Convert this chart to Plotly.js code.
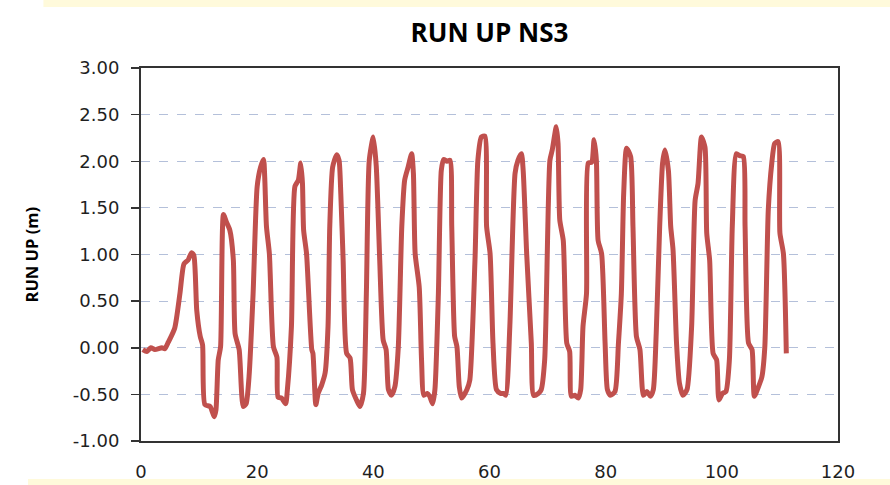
<!DOCTYPE html>
<html>
<head>
<meta charset="utf-8">
<script src="https://cdn.plot.ly/plotly-3.0.1.min.js"></script>
<style>html,body{margin:0;padding:0;background:#fff;}#chart{width:890px;height:485px;}</style>
</head>
<body>
<div id="chart"></div>
<script>
const chartTitle = "RUN UP NS3";
const yTitle = "RUN UP (m)";
const xTicks = [0, 20, 40, 60, 80, 100, 120];
const yTicks = [-1, -0.5, 0, 0.5, 1, 1.5, 2, 2.5, 3];

const time = [0.3, 1.0, 1.7, 2.4, 3.6, 4.1, 4.7, 5.8, 6.7, 7.4, 8.1, 8.7, 9.1, 9.6, 10.2, 10.6, 11.0, 11.9, 12.6, 12.9, 13.3, 13.7, 14.2, 14.7, 15.3, 15.9, 16.2, 16.9, 17.6, 18.1, 18.6, 19.3, 20.0, 20.6, 21.1, 21.3, 21.6, 22.1, 22.8, 23.4, 23.6, 24.2, 24.9, 25.2, 25.9, 26.5, 27.1, 27.5, 27.8, 28.0, 28.5, 29.4, 29.6, 30.1, 30.5, 31.1, 31.7, 32.2, 32.5, 33.0, 33.7, 34.1, 34.4, 34.8, 35.4, 36.0, 36.4, 37.1, 37.7, 38.3, 38.8, 39.3, 40.0, 40.5, 41.1, 41.7, 42.2, 42.6, 43.1, 43.7, 44.3, 44.9, 45.4, 46.0, 46.6, 46.9, 47.2, 47.9, 48.3, 48.7, 49.3, 49.7, 50.2, 50.6, 51.2, 51.7, 52.1, 52.7, 53.2, 53.5, 54.0, 54.4, 54.8, 55.2, 56.1, 56.6, 57.5, 58.0, 58.6, 59.2, 59.5, 60.1, 60.6, 61.2, 61.9, 62.4, 62.8, 63.5, 64.4, 64.9, 65.5, 65.8, 66.4, 67.2, 67.6, 68.4, 68.9, 69.5, 70.4, 70.8, 71.5, 71.8, 72.1, 72.7, 73.3, 73.8, 74.1, 74.7, 75.3, 75.7, 76.1, 76.7, 77.0, 77.6, 78.0, 78.4, 78.7, 79.3, 79.9, 80.3, 80.8, 81.6, 82.2, 82.7, 83.1, 83.6, 84.3, 84.7, 85.3, 85.9, 86.5, 87.1, 87.7, 88.2, 88.7, 89.3, 89.8, 90.2, 90.8, 91.2, 91.6, 92.2, 92.7, 93.3, 94.0, 94.8, 95.4, 95.9, 96.5, 97.1, 97.4, 97.9, 98.5, 99.1, 99.5, 100.1, 100.7, 101.3, 101.8, 102.5, 103.1, 103.7, 104.0, 104.6, 105.2, 105.6, 106.3, 106.9, 107.4, 108.0, 108.6, 109.1, 109.7, 110.0, 110.6, 111.1];

const runUp = [-0.02, -0.04, 0.0, -0.02, 0.0, -0.01, 0.06, 0.21, 0.58, 0.90, 0.94, 1.02, 0.99, 0.40, 0.12, 0.03, -0.61, -0.63, -0.74, -0.67, -0.13, 0.01, 1.43, 1.35, 1.26, 0.94, 0.15, -0.02, -0.63, -0.60, -0.31, 0.58, 1.73, 1.94, 2.02, 1.83, 1.30, 1.01, 0.01, -0.10, -0.53, -0.54, -0.60, -0.45, 0.23, 1.73, 1.80, 1.98, 1.76, 1.26, 1.01, -0.02, -0.06, -0.61, -0.49, -0.40, -0.27, 0.23, 1.30, 1.94, 2.07, 2.01, 1.65, 0.94, -0.06, -0.11, -0.45, -0.56, -0.63, -0.49, 0.58, 2.01, 2.26, 1.95, 0.94, 0.08, -0.02, -0.45, -0.51, -0.42, 0.01, 1.30, 1.80, 1.94, 2.08, 1.87, 1.01, 0.65, -0.13, -0.51, -0.49, -0.52, -0.60, -0.45, 0.58, 1.90, 2.02, 2.00, 2.01, 1.30, 0.12, 0.01, -0.42, -0.54, -0.45, -0.35, 0.94, 2.01, 2.26, 2.27, 1.30, 1.01, 0.05, -0.45, -0.49, -0.49, -0.51, 0.23, 1.87, 2.01, 2.08, 1.90, 1.01, 0.05, -0.51, -0.49, -0.45, -0.13, 2.01, 2.12, 2.37, 2.19, 1.37, 1.15, 0.05, -0.04, -0.52, -0.51, -0.54, -0.45, 0.23, 0.58, 1.98, 1.99, 2.23, 2.01, 1.15, 1.01, 0.05, -0.45, -0.51, -0.47, 0.05, 0.58, 1.65, 2.14, 2.05, 1.30, 0.12, -0.02, -0.51, -0.47, -0.52, -0.45, 0.15, 1.30, 1.98, 2.12, 1.90, 1.30, 1.05, 0.05, -0.38, -0.51, -0.45, 0.23, 1.58, 1.76, 2.26, 2.15, 1.23, 0.94, -0.06, -0.13, -0.56, -0.49, -0.47, -0.13, 1.30, 2.08, 2.06, 2.05, 1.30, 0.05, -0.02, -0.52, -0.42, -0.31, 0.01, 1.48, 1.98, 2.19, 2.21, 1.23, 1.01, -0.06];

const trace = {
  x: time,
  y: runUp,
  type: "scatter",
  mode: "lines",
  line: {color: "#C0504D", width: 5, shape: "spline", smoothing: 0.6},
  hoverinfo: "x+y"
};

const tickFont = {family: "DejaVu Sans, Verdana, sans-serif", size: 18, color: "#1f1f1f"};

const layout = {
  width: 890,
  height: 485,
  paper_bgcolor: "#ffffff",
  plot_bgcolor: "#ffffff",
  margin: {l: 141, r: 52, t: 68, b: 44},
  showlegend: false,
  title: {
    text: "<b>" + chartTitle + "</b>",
    font: {family: "Open Sans, sans-serif", size: 26, color: "#000"},
    x: 0.5, xanchor: "center", xref: "paper",
    y: 1 - 33/485, yanchor: "middle", yref: "container"
  },
  xaxis: {
    range: [0, 120],
    tickvals: xTicks,
    ticktext: xTicks.map(String),
    showgrid: false,
    zeroline: false,
    showline: true,
    linecolor: "#333",
    linewidth: 2,
    mirror: true,
    ticks: "",
    ticklabelstandoff: 13,
    tickfont: tickFont
  },
  yaxis: {
    range: [-1, 3],
    tickvals: yTicks,
    ticktext: yTicks.map(v => v.toFixed(2)),
    showgrid: true,
    gridcolor: "#b4c0da",
    griddash: "dash",
    gridwidth: 1,
    zeroline: false,
    showline: true,
    linecolor: "#333",
    linewidth: 2,
    mirror: true,
    ticks: "outside",
    ticklen: 8,
    tickcolor: "#333",
    tickwidth: 1.5,
    ticklabelstandoff: 8,
    tickfont: tickFont
  },
  annotations: [
    {text: "<b>" + yTitle + "</b>", textangle: -90, xref: "paper", yref: "paper",
     x: (31 - 141) / 697, y: 0.5, xanchor: "center", yanchor: "middle", showarrow: false,
     font: {family: "Open Sans, sans-serif", size: 16.5, color: "#000"}}
  ],
  shapes: [
    {type: "rect", xref: "paper", yref: "paper", x0: -0.14, x1: 1.08, y0: (441-0)/373, y1: (441-7)/373, fillcolor: "#fffadb", line: {width: 0}, layer: "below"},
    {type: "rect", xref: "paper", yref: "paper", x0: (28-141)/697, x1: 1.08, y0: (441-479)/373, y1: (441-486)/373, fillcolor: "#fffadb", line: {width: 0}, layer: "below"}
  ]
};

Plotly.newPlot("chart", [trace], layout, {displayModeBar: false, staticPlot: true});
</script>
</body>
</html>
